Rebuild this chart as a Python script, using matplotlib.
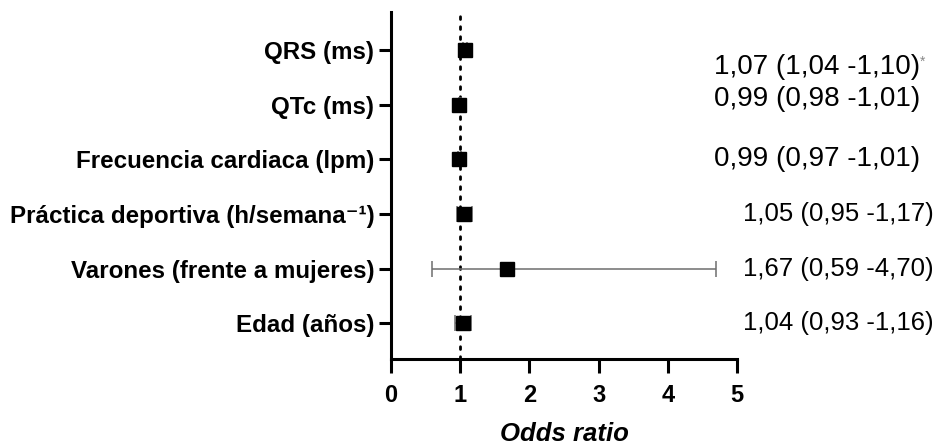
import matplotlib
matplotlib.use("Agg")
import matplotlib.pyplot as plt

plt.rcParams["font.family"] = ["Liberation Sans", "DejaVu Sans"]

# variables, de arriba abajo
labels = [
    "QRS (ms)",
    "QTc (ms)",
    "Frecuencia cardiaca (lpm)",
    "Práctica deportiva (h/semana⁻¹)",
    "Varones (frente a mujeres)",
    "Edad (años)",
]
odds = [1.07, 0.99, 0.99, 1.05, 1.67, 1.04]
ci_low = [1.04, 0.98, 0.97, 0.95, 0.59, 0.93]
ci_high = [1.10, 1.01, 1.01, 1.17, 4.70, 1.16]
texts = [
    "1,07 (1,04 -1,10)",
    "0,99 (0,98 -1,01)",
    "0,99 (0,97 -1,01)",
    "1,05 (0,95 -1,17)",
    "1,67 (0,59 -4,70)",
    "1,04 (0,93 -1,16)",
]
significant = [True, False, False, False, False, False]
xticks = [0, 1, 2, 3, 4, 5]

n = len(labels)
ypos = [n - i for i in range(n)]

fig = plt.figure(figsize=(9.42, 4.45), dpi=100)
ax = fig.add_axes([0.415, 0.193, 0.3675, 0.78])

# linea de referencia OR = 1
ax.axvline(1, color="black", lw=2, linestyle=(0, (1, 2.6)), dash_capstyle="round", zorder=1)

# intervalos de confianza
xerr = [[o - lo for o, lo in zip(odds, ci_low)], [hi - o for o, hi in zip(odds, ci_high)]]
ax.errorbar(odds, ypos, xerr=xerr, fmt="none", ecolor="#6e6e6e", elinewidth=1.1,
            capsize=5.5, capthick=1.1, zorder=2)
ax.plot(odds, ypos, "s", color="black", markersize=10.5, zorder=3)

# textos a la derecha (las tres primeras filas van algo mas a la izquierda)
for i, (y, t, sig) in enumerate(zip(ypos, texts, significant)):
    if i < 3:
        x0, dy, fs = 4.66, [-0.3, 0.1, 0.0][i], 20
    else:
        x0, dy, fs = 5.08, 0.0, 18.5
    tx = ax.text(x0, y + dy, t, fontsize=fs, va="center", ha="left", clip_on=False)
    if sig:
        ax.annotate("*", xy=(1, 0.95), xycoords=tx, va="top", ha="left",
                    fontsize=10, color="#888888")

ax.set_xlim(0, 5)
ax.set_ylim(0.34, 6.70)
ax.set_xticks(xticks)
ax.set_xticklabels([str(x) for x in xticks], fontsize=17, fontweight="bold")
ax.set_yticks(ypos)
ax.set_yticklabels(labels, fontsize=17.4, fontweight="bold")
ax.set_xlabel("Odds ratio", fontsize=18.5, fontweight="bold", style="italic", labelpad=11)

for side in ["top", "right"]:
    ax.spines[side].set_visible(False)
for side in ["left", "bottom"]:
    ax.spines[side].set_linewidth(2.2)
ax.tick_params(axis="x", length=10, width=2.2, pad=8)
ax.tick_params(axis="y", length=9, width=2.2, pad=3)

fig.savefig("out.png", dpi=100)
